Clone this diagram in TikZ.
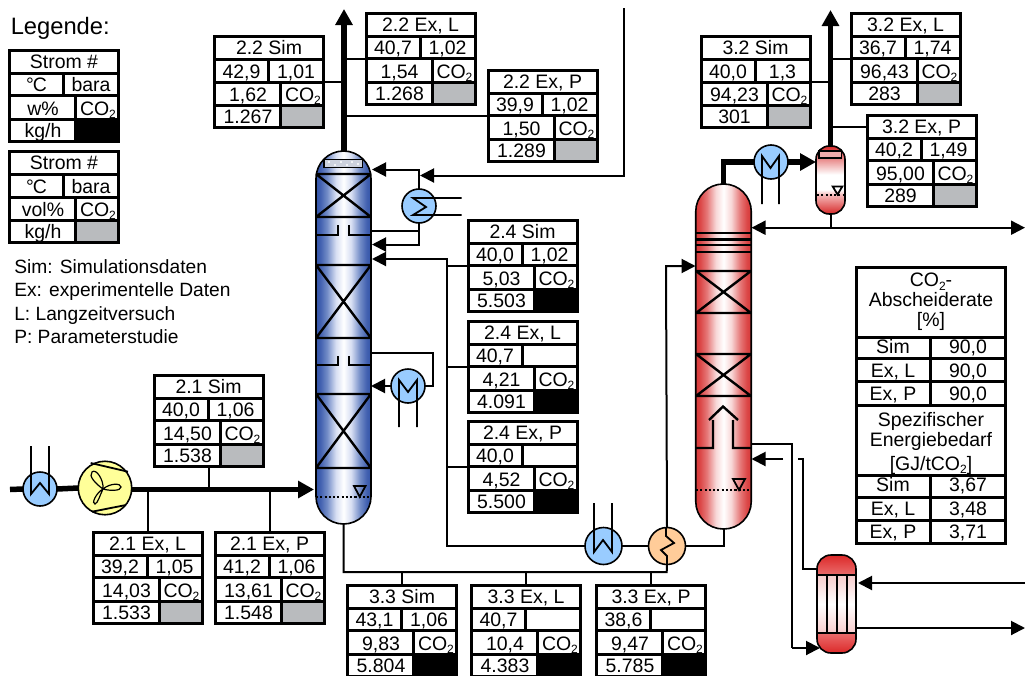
\documentclass[tikz,border=0pt]{standalone}
\usepackage{fontspec}
\setmainfont{Liberation Sans}
\usetikzlibrary{arrows.meta}
\def\px{0.75pt}
\definecolor{coolc}{RGB}{153,204,255}
\definecolor{fanc}{RGB}{255,255,153}
\definecolor{hxc}{RGB}{255,204,153}
\definecolor{cellgray}{RGB}{185,187,190}
\pgfdeclarehorizontalshading{bluecol}{100bp}{rgb(0bp)=(.2,.33,.66); rgb(25bp)=(.2,.33,.66); rgb(29bp)=(.26,.38,.69); rgb(35bp)=(.45,.55,.78); rgb(43bp)=(.84,.87,.95); rgb(50bp)=(1,1,1); rgb(57bp)=(.84,.87,.95); rgb(65bp)=(.45,.55,.78); rgb(71bp)=(.26,.38,.69); rgb(75bp)=(.2,.33,.66); rgb(100bp)=(.2,.33,.66)}
\pgfdeclarehorizontalshading{redcol}{100bp}{rgb(0bp)=(.84,.22,.22); rgb(25bp)=(.84,.22,.22); rgb(29bp)=(.86,.28,.28); rgb(35bp)=(.9,.47,.47); rgb(43bp)=(.97,.84,.84); rgb(50bp)=(1,1,1); rgb(57bp)=(.97,.84,.84); rgb(65bp)=(.9,.47,.47); rgb(71bp)=(.86,.28,.28); rgb(75bp)=(.84,.22,.22); rgb(100bp)=(.84,.22,.22)}
\pgfdeclareverticalshading{redsep}{100bp}{rgb(0bp)=(.84,.16,.16); rgb(25bp)=(.84,.16,.16); rgb(39bp)=(.96,.72,.72); rgb(43bp)=(1,1,1); rgb(54bp)=(1,1,1); rgb(75bp)=(.84,.16,.16); rgb(100bp)=(.84,.16,.16)}
\pgfdeclareverticalshading{redreb}{100bp}{rgb(0bp)=(.86,.16,.16); rgb(25bp)=(.86,.16,.16); rgb(35bp)=(.92,.42,.42); rgb(35.2bp)=(.97,.8,.8); rgb(50bp)=(1,1,1); rgb(64.8bp)=(.97,.8,.8); rgb(65bp)=(.92,.42,.42); rgb(75bp)=(.86,.16,.16); rgb(100bp)=(.86,.16,.16)}
\tikzset{
  atip/.tip={Triangle[length=10.5pt,width=10.5pt]},
  btip/.tip={Triangle[length=12pt,width=12.5pt]},
  conn/.style={line width=2*\px,line join=miter},
  fatline/.style={line width=5.5*\px,line join=miter},
  tbox/.style={draw,line width=3*\px,rectangle,minimum width=109*\px,minimum height=91*\px,inner sep=0pt,outer sep=0pt,anchor=north west},
  tline/.style={line width=3*\px},
  celltext/.style={anchor=base,inner sep=0pt,outer sep=0pt,font=\fontsize{14.6}{17}\selectfont},
  hx/.style={circle,draw,line width=1.6*\px,inner sep=0pt,outer sep=0pt,minimum size=#1*\px},
  col/.style={draw,line width=1.6*\px,rectangle,inner sep=0pt,outer sep=0pt},
  inner/.style={line width=2.4*\px},
  sym/.style={line width=1.8*\px,line join=miter},
  level/.style={line width=1.8*\px,dash pattern=on 1.6pt off 1.6pt},
  lvltri/.style={line width=1.8*\px,line join=miter}
}
\newcommand{\COtwo}{CO{\fontsize{9}{9}\selectfont\raisebox{-2.6pt}{2}}}
\newcommand{\degC}{°\kern-0.8pt C}
% name, x, y, title, T, p, concentration, flow, cell colour
\newcommand{\strm}[9]{%
\begin{scope}[shift={(#2,#3)}]
  \fill[#9] (66,69) rectangle (109,91);
  \node[tbox] (#1) at (0,0) {};
  \draw[tline] (0,23)--(109,23) (0,45.5)--(109,45.5) (0,69)--(109,69);
  \draw[tline] (54,23)--(54,45.5) (66,45.5)--(66,91);
  \node[celltext] (#1-a) at (54.5,18) {#4};
  \node[celltext] (#1-b) at (27,41.8) {#5};
  \node[celltext] (#1-c) at (81.5,41.8) {#6};
  \node[celltext] (#1-d) at (33.5,65) {#7};
  \node[celltext,anchor=base west] (#1-e) at (70.5,65) {\COtwo};
  \node[celltext] (#1-f) at (33.5,87.3) {#8};
\end{scope}}
\newcommand{\bed}[4]{\draw[inner] (#1,#3)--(#2,#3) (#1,#4)--(#2,#4) (#1,#3)--(#2,#4) (#1,#4)--(#2,#3);}
\begin{document}
\begin{tikzpicture}[x=0.75pt,y=-0.75pt]
\clip (0,0) rectangle (1025,675);
\fill[white] (0,0) rectangle (1025,675);

% ---- legend
\node[anchor=base west,inner sep=0pt,font=\fontsize{17.8}{20}\selectfont] (legtitle) at (10.5,34) {Legende:};
\strm{lega}{9.5}{50}{Strom \#}{\degC}{bara}{w\%}{kg/h}{black}
\strm{legb}{9.5}{151.5}{Strom \#}{\degC}{bara}{vol\%}{kg/h}{cellgray}
\node[anchor=base west,inner sep=0pt,font=\fontsize{14.4}{17}\selectfont] (lega1) at (14,273) {Sim: Simulationsdaten};
\node[anchor=base west,inner sep=0pt,font=\fontsize{14.4}{17}\selectfont] (lega2) at (14,296.5) {Ex: experimentelle Daten};
\node[anchor=base west,inner sep=0pt,font=\fontsize{14.4}{17}\selectfont] (lega3) at (14,320) {L: Langzeitversuch};
\node[anchor=base west,inner sep=0pt,font=\fontsize{14.4}{17}\selectfont] (lega4) at (14,343) {P: Parameterstudie};

% ---- stream tables
\strm{ta}{214.5}{36.5}{2.2 Sim}{42,9}{1,01}{1,62}{1.267}{cellgray}
\strm{tb}{366}{13}{2.2 Ex, L}{40,7}{1,02}{1,54}{1.268}{cellgray}
\strm{tc}{488}{70}{2.2 Ex, P}{39,9}{1,02}{1,50}{1.289}{cellgray}
\strm{td}{468}{220}{2.4 Sim}{40,0}{1,02}{5,03}{5.503}{black}
\strm{te}{468}{321}{2.4 Ex, L}{40,7}{}{4,21}{4.091}{black}
\strm{tf}{468}{421}{2.4 Ex, P}{40,0}{}{4,52}{5.500}{black}
\strm{tg}{154}{375}{2.1 Sim}{40,0}{1,06}{14,50}{1.538}{cellgray}
\strm{th}{93}{532}{2.1 Ex, L}{39,2}{1,05}{14,03}{1.533}{cellgray}
\strm{ti}{215}{532}{2.1 Ex, P}{41,2}{1,06}{13,61}{1.548}{cellgray}
\strm{tj}{347.5}{585}{3.3 Sim}{43,1}{1,06}{9,83}{5.804}{black}
\strm{tk}{471.5}{585}{3.3 Ex, L}{40,7}{}{10,4}{4.383}{black}
\strm{tl}{596.5}{585}{3.3 Ex, P}{38,6}{}{9,47}{5.785}{black}
\strm{tm}{701}{36.5}{3.2 Sim}{40,0}{1,3}{94,23}{301}{cellgray}
\strm{tn}{851}{13}{3.2 Ex, L}{36,7}{1,74}{96,43}{283}{cellgray}
\strm{to}{867}{115}{3.2 Ex, P}{40,2}{1,49}{95,00}{289}{cellgray}

% ---- capture table
\node[draw,line width=3*\px,rectangle,inner sep=0pt,outer sep=0pt,minimum width=148.5*\px,minimum height=275.5*\px,anchor=north west] (cap) at (856.5,267.5) {};
\draw[tline] (856.5,337)--(1005,337) (856.5,358)--(1005,358) (856.5,381.7)--(1005,381.7) (856.5,405)--(1005,405)
  (856.5,475)--(1005,475) (856.5,497.3)--(1005,497.3) (856.5,520)--(1005,520)
  (930.7,337)--(930.7,405) (930.7,475)--(930.7,543);
\node[celltext] (c1) at (931,286.7) {\COtwo-};
\node[celltext] (c2) at (931,306.7) {Abscheiderate};
\node[celltext] (c3) at (931,326.5) {[\%]};
\node[celltext] (c4) at (893,353) {Sim};
\node[celltext] (c5) at (968,353) {90,0};
\node[celltext] (c6) at (893,377) {Ex, L};
\node[celltext] (c7) at (968,377) {90,0};
\node[celltext] (c8) at (893,400.5) {Ex, P};
\node[celltext] (c9) at (968,400.5) {90,0};
\node[celltext] (c10) at (931,426.7) {Spezifischer};
\node[celltext] (c11) at (931,446.7) {Energiebedarf};
\node[celltext] (c12) at (931,470) {[GJ/t\COtwo]};
\node[celltext] (c13) at (893,491.7) {Sim};
\node[celltext] (c14) at (968,491.7) {3,67};
\node[celltext] (c15) at (893,515.7) {Ex, L};
\node[celltext] (c16) at (968,515.7) {3,48};
\node[celltext] (c17) at (893,538.3) {Ex, P};
\node[celltext] (c18) at (968,538.3) {3,71};

% ---- column 1
\node[col,minimum width=55*\px,minimum height=373*\px,rounded corners=20.6pt,shading=bluecol,shading angle=0] (col1) at (343.5,337.5) {};
\draw[line width=1.8*\px,fill={rgb,255:red,205;green,210;blue,222}] (324,159.5) rectangle (362.5,167.5);
\foreach \dx/\dy in {329/162,335/165,341/162,347/165,352/162,358/164} \fill[white] (\dx,\dy) circle[radius=0.8pt];
\bed{316}{371}{174}{217}
\bed{316}{371}{265}{338}
\bed{316}{371}{394}{468}
\draw[inner] (316,234.7)--(337.7,234.7)--(337.7,225) (349,225)--(349,234.7)--(371,234.7);
\draw[inner] (316,365)--(337.7,365)--(337.7,356) (349,356)--(349,365)--(371,365);
\draw[level] (316,497)--(371,497);
\draw[lvltri] (354,486)--(365.5,486)--(359.7,496.8)--cycle;

% ---- column 2
\node[col,minimum width=55.5*\px,minimum height=345*\px,rounded corners=20.6pt,shading=redcol,shading angle=0] (col2) at (723.5,356.5) {};
\draw[inner] (696,232.7)--(751,232.7) (696,239.3)--(751,239.3) (696,244.7)--(751,244.7) (696,251.7)--(751,251.7);
\bed{696}{751}{271}{313}
\bed{696}{751}{354}{396}
\draw[inner] (696,448)--(713,448)--(713,420) (709,420)--(723,406.5)--(738,420) (733,420)--(733,448)--(751,448);
\draw[level] (696,490)--(751,490);
\draw[lvltri] (733,479)--(745,479)--(739,490)--cycle;

% ---- separator
\node[col,minimum width=29*\px,minimum height=68*\px,rounded corners=10pt,shading=redsep,shading angle=0] (sep) at (830.5,180) {};
\draw[line width=1.6*\px,fill={rgb,255:red,240;green,170;blue,170}] (819,151) rectangle (841.5,158);
\draw[level] (817,195)--(844,195);
\draw[lvltri] (832.7,186.5)--(842.3,186.5)--(837.5,194.5)--cycle;

% ---- reboiler
\node[col,minimum width=39*\px,minimum height=98*\px,rounded corners=10.5pt,shading=redreb,shading angle=0] (reb) at (836.5,604) {};
\draw[inner] (817,575)--(856,575) (817,633)--(856,633) (827,575)--(827,633) (837,575)--(837,633) (847,575)--(847,633);

% ---- heat exchangers
\node[hx=34,fill=coolc] (cool1) at (40,489) {};
\node[hx=53.5,fill=fanc] (fan) at (105,488) {};
\node[hx=34,fill=coolc] (cool2) at (419,206) {};
\node[hx=34,fill=coolc] (cond1) at (408,386) {};
\node[hx=37,fill=coolc] (cool3) at (603.5,546) {};
\node[hx=37,fill=hxc] (rich) at (667,546) {};
\node[hx=34,fill=coolc] (cond2) at (771,162) {};

% symbols in the exchangers
\draw[sym] (31,446)--(31,494)--(40,483)--(49,494)--(49,446);
\draw[sym] (461.7,198)--(413,198)--(426,207)--(413,215)--(461.7,215);
\draw[sym] (399,427)--(399,380)--(408,392)--(417,380)--(417,427);
\draw[sym] (594,503)--(594,552)--(603,540)--(612,552)--(612,503);
\draw[sym] (762,204)--(762,156)--(770.5,168)--(779,156)--(779,204);
\draw[sym] (90.7,463)--(128,471.7) (92,511.7)--(126,505);
\draw[line width=1.2*\px] (103,489) .. controls (96,484) and (88,476) .. (92,472) .. controls (96,468) and (104,480) .. (103,489);
\draw[line width=1.2*\px] (103,489) .. controls (110,483) and (121,483) .. (121,487) .. controls (121,491) and (110,491) .. (103,489);
\draw[line width=1.2*\px] (103,489) .. controls (100,495) and (98,503) .. (95,504) .. controls (91,504) and (96,493) .. (103,489);

% ---- free ends
\coordinate (feedin) at (10,489.5);
\coordinate (top1) at (344,9);
\coordinate (top2) at (830.5,10);
\coordinate (wash) at (624,8);
\coordinate (trunk) at (343.5,572);
\coordinate (rightA) at (1025,227.7);
\coordinate (rightB) at (1025,583);
\coordinate (rightC) at (1025,628);
\coordinate (gapL) at (783,459);
\coordinate (gapR) at (798,459);
\coordinate (toTo) at (867,126.7);

% ---- fat streams
\draw[fatline] (feedin)--(cool1.west);
\draw[fatline] (cool1.east)--(fan.west);
\draw[fatline,-{btip}] (fan.east|-feedin)--(314,489.5);
\draw[fatline,-{btip}] (col1.north-|top1)--(top1);
\draw[fatline] (col2.north)--(723.5,162)--(cond2.west);
\draw[fatline,-{btip}] (cond2.east)--(816,162);
\draw[fatline,-{btip}] (sep.north)--(top2);

% ---- thin streams, absorber
\draw[conn] (ta.east)--(ta.east-|top1);
\draw[conn] (tb.west)--(tb.west-|top1);
\draw[conn] (tc.west)--(tc.west-|top1);
\draw[conn] (tg.south)--(tg.south|-feedin);
\draw[conn] (th.north)--(th.north|-feedin);
\draw[conn] (ti.north)--(ti.north|-feedin);
\draw[conn,-{atip}] (wash)--(624,175.5)--(420,175.5);
\draw[conn,-{atip}] (cool2.north)--(419,169.5)--(372,169.5);
\draw[conn] (371,230.7)--(419,230.7);
\draw[conn,-{atip}] (cool2.south)--(419,244.5)--(372,244.5);
\draw[conn,-{atip}] (cool3.west)--(447,546)--(447,259)--(372,259);
\draw[conn] (td.west)--(td.west-|447,0);
\draw[conn] (te.west)--(te.west-|447,0);
\draw[conn] (tf.west)--(tf.west-|447,0);
\draw[conn,-{atip}] (cond1.west)--(371,386);
\draw[conn] (371,353)--(433,353)--(433,386)--(cond1.east);
\draw[conn] (col1.south)--(trunk)--(666.7,572)--(rich.south);
\draw[conn] (tj.north)--(tj.north|-trunk);
\draw[conn] (tk.north)--(tk.north|-trunk);
\draw[conn] (tl.north)--(tl.north|-trunk);

% ---- thin streams, desorber
\draw[conn] (rich.east)--(723.5,546)--(col2.south);
\draw[conn] (cool3.east)--(rich.west);
\draw[conn,-{atip}] (rich.north)--(666,266)--(695.5,266);
\draw[sym] (666,528)--(666,536)--(674,543)--(661,550)--(667,556)--(667,564);
\draw[conn] (tm.east)--(tm.east-|top2);
\draw[conn] (tn.west)--(tn.west-|top2);
\draw[conn] (toTo)--(toTo-|top2);
\draw[conn,{atip}-{atip}] (751.5,227.7)--(rightA);
\draw[conn] (sep.south)--(830.5,227.7);
\draw[conn] (751,444)--(791.5,444)--(791.5,648);
\draw[conn,-{atip}] (791.5,648)--(820,648);
\draw[conn,-{atip}] (gapL)--(751.5,459);
\draw[conn] (gapR)--(803,459)--(803,569)--(817,569);
\draw[conn,-{atip}] (rightB)--(858,583);
\draw[conn,-{atip}] (857,628)--(rightC);
\end{tikzpicture}
\end{document}
